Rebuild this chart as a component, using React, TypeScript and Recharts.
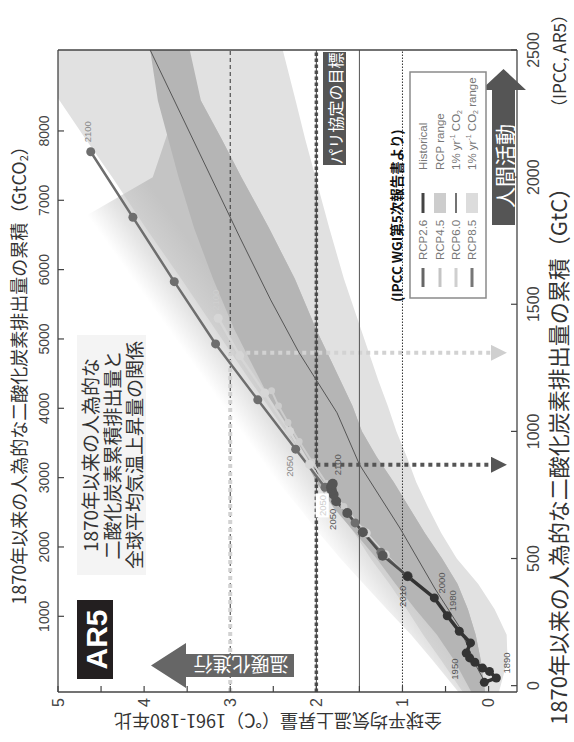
import React from "react";
import {
  ComposedChart,
  Area,
  Line,
  XAxis,
  YAxis,
  ReferenceLine,
  LabelList,
} from "recharts";

// Drawn in the usual landscape layout (cumulative emissions across, warming up)
// and then turned a quarter turn counter-clockwise as a whole.
const W = 742;
const H = 574;

const JP = "'Noto Sans CJK JP', 'Noto Sans', sans-serif";
const NUM = "'Liberation Sans Narrow', 'Liberation Sans', Arial, sans-serif";

const GTC_TICKS = [0, 500, 1000, 1500, 2000, 2500];
const GTCO2_TICKS = [1000, 2000, 3000, 4000, 5000, 6000, 7000, 8000];
const TEMP_TICKS = [0, 0.5, 1, 1.5, 2, 2.5, 3, 3.5, 4, 4.5, 5];
const CO2_PER_C = 3.667;
const GTC_DOMAIN = [-25, 2500];
const TEMP_DOMAIN = [-0.33, 5];

// observed record, decadal
const HIST_YEARS = [1870, 1890, 1900, 1910, 1920, 1930, 1950, 1960, 1970, 1980, 2000, 2010];
const HIST_GTC = [13, 30, 56, 69, 92, 109, 128, 168, 214, 275, 345, 430];
const HIST_TEMP = [0.05, -0.09, -0.01, 0.07, 0.16, 0.22, 0.26, 0.21, 0.34, 0.48, 0.63, 0.94];

const RCP_YEARS = [2010, 2020, 2030, 2040, 2050, 2060, 2070, 2080, 2090, 2100];
const RCP26_GTC = [430, 511, 603, 679, 725, 752, 768, 780, 788, 794];
const RCP26_TEMP = [0.94, 1.23, 1.46, 1.64, 1.77, 1.8, 1.82, 1.83, 1.82, 1.81];
const RCP45_GTC = [430, 520, 612, 705, 795, 880, 960, 1035, 1100, 1160];
const RCP45_TEMP = [0.94, 1.22, 1.46, 1.68, 1.88, 2.05, 2.2, 2.33, 2.44, 2.52];
const RCP60_GTC = [430, 515, 600, 680, 760, 870, 1000, 1151, 1297, 1445];
const RCP60_TEMP = [0.94, 1.2, 1.42, 1.63, 1.85, 2.08, 2.31, 2.6, 2.89, 3.14];
const RCP85_GTC = [430, 525, 640, 780, 930, 1124, 1344, 1589, 1842, 2100];
const RCP85_TEMP = [0.94, 1.25, 1.55, 1.9, 2.24, 2.68, 3.17, 3.65, 4.13, 4.62];

// 1% per year CO2 runs, mean
const PCT_GTC = [0, 75, 232, 380, 620, 870, 1073, 1309, 1517, 1764, 2500];
const PCT_TEMP = [0.02, 0.14, 0.34, 0.62, 1.03, 1.5, 1.76, 2.2, 2.53, 2.89, 3.93];

// shaded ranges, low/high warming at each emission level
const BAND_GTC = [-25, 100, 200, 300, 400, 500, 600, 700, 800, 900, 1000, 1100, 1200, 1400, 1600, 1800, 2000, 2150, 2300, 2500];
const PCT_RANGE_LO = [-0.12, -0.22, -0.21, -0.07, 0.12, 0.37, 0.55, 0.7, 0.84, 0.95, 1.07, 1.17, 1.28, 1.48, 1.68, 1.85, 2.01, 2.13, 2.24, 2.39];
const PCT_RANGE_HI = [0.3, 0.55, 0.76, 0.95, 1.15, 1.37, 1.56, 1.77, 1.96, 2.17, 2.36, 2.56, 2.77, 3.17, 3.57, 3.98, 4.37, 4.68, 4.98, 5.38];
const RCP_RANGE_LO = [0.04, 0.09, 0.15, 0.24, 0.36, 0.54, 0.74, 0.92, 1.1, 1.3, 1.47, 1.58, 1.72, 2.0, 2.25, 2.55, 2.87, 3.1, 3.34, 3.47];
const RCP_RANGE_HI = [0.35, 0.65, 0.9, 1.18, 1.45, 1.72, 1.97, 2.2, 2.45, 2.7, 2.92, 3.12, 3.33, 3.87, 4.37, 4.92, 3.9, 3.75, 3.6, null];
const OVERLAP_HI = [0.2, 0.4, 0.6, 0.85, 1.08, 1.3, 1.55, 1.8, 2.0, 2.15, 2.33, 2.5, 2.65, 2.95, 3.2, 3.42, 3.6, 3.72, 3.84, 3.93];

// emissions left for 2°C and 3°C
const BUDGET_2C = 869;
const BUDGET_3C = 1309;

const series = (years: number[], gtc: number[], temp: number[]) =>
  years.map((year, i) => ({ year, gtc: gtc[i], temp: temp[i] }));

const hist = series(HIST_YEARS, HIST_GTC, HIST_TEMP);
const rcp26 = series(RCP_YEARS, RCP26_GTC, RCP26_TEMP);
const rcp45 = series(RCP_YEARS, RCP45_GTC, RCP45_TEMP);
const rcp60 = series(RCP_YEARS, RCP60_GTC, RCP60_TEMP);
const rcp85 = series(RCP_YEARS, RCP85_GTC, RCP85_TEMP);
const pct = PCT_GTC.map((gtc, i) => ({ gtc, temp: PCT_TEMP[i] }));

const bands = BAND_GTC.map((gtc, i) => ({
  gtc,
  pctRange: [PCT_RANGE_LO[i], PCT_RANGE_HI[i]],
  rcpRange: RCP_RANGE_HI[i] == null ? null : [RCP_RANGE_LO[i], RCP_RANGE_HI[i]],
  overlap: [RCP_RANGE_LO[i], OVERLAP_HI[i]],
}));

// top axis shares the GtC scale, labelled in GtCO2
const co2TickPos = GTCO2_TICKS.map((v) => v / CO2_PER_C);
const co2Label = (v: number) => String(Math.round((v * CO2_PER_C) / 100) * 100);

// where each year tag sits relative to its dot (px); boxed tags get a white backing
const HIST_TAGS: Record<number, number[]> = {
  1890: [15, 10],
  1950: [-16, -12],
  1980: [15, 5],
  2000: [15, 7],
  2010: [-20, -5],
};
const RCP26_TAGS: Record<number, number[]> = { 2050: [-18, -4], 2100: [19, 5] };
const RCP60_TAGS: Record<number, number[]> = { 2050: [-13, -7], 2100: [18, -3] };
const RCP85_TAGS: Record<number, number[]> = { 2050: [-17, -6], 2100: [20, -3] };

const yearTag =
  (tags: Record<number, number[]>, color: string, boxed: number[] = []) =>
  (props: any) => {
    const { x, y, value } = props;
    const off = tags[value];
    if (!off || x == null || y == null) return null;
    const cx = x + off[0];
    const cy = y + off[1];
    return (
      <g key={`${value}-${cx}`}>
        {boxed.includes(value) && <rect x={cx - 12} y={cy - 6.5} width={24} height={13} fill="#fff" />}
        <text
          x={cx}
          y={cy}
          textAnchor="middle"
          dominantBaseline="central"
          fontSize={9.5}
          fontFamily={NUM}
          fill={color}
        >
          {value}
        </text>
      </g>
    );
  };

const tempTick = (v: number) => (Number.isInteger(v) ? String(v) : "");

function Overlay() {
  return (
    <svg
      width={W}
      height={H}
      style={{ position: "absolute", left: 0, top: 0, pointerEvents: "none" }}
      fontFamily={JP}
    >
      {/* axis titles */}
      <text x={371} y={18} textAnchor="middle" dominantBaseline="central" fontSize={18} fill="#333">
        1870年以来の人為的な二酸化炭素排出量の累積（GtCO
        <tspan fontSize={11} dy={5}>2</tspan>
        <tspan dy={-5}>）</tspan>
      </text>
      <text x={17} y={557} dominantBaseline="central" fontSize={22} fill="#333">
        1870年以来の人為的な二酸化炭素排出量の累積（GtC）
      </text>
      <text x={626} y={558} dominantBaseline="central" fontSize={17} fill="#333">
        （IPCC, AR5）
      </text>
      <text
        transform="translate(20,278) rotate(-90)"
        textAnchor="middle"
        dominantBaseline="central"
        fontSize={18}
        fill="#333"
      >
        全球平均気温上昇量（℃）1961-180年比
      </text>

      {/* AR5 badge */}
      <rect x={63} y={77} width={79} height={36} fill="#231f20" />
      <text
        x={102.5}
        y={96}
        textAnchor="middle"
        dominantBaseline="central"
        fontSize={30}
        fontWeight={700}
        fontFamily="'Liberation Sans', Arial, sans-serif"
        fill="#fff"
      >
        AR5
      </text>

      {/* caption box */}
      <rect x={167} y={77} width={240} height={69} fill="#f4f4f4" />
      <text x={287} y={89} textAnchor="middle" dominantBaseline="central" fontSize={19} fill="#333">
        1870年以来の人為的な
      </text>
      <text x={287} y={111} textAnchor="middle" dominantBaseline="central" fontSize={19} fill="#333">
        二酸化炭素累積排出量と
      </text>
      <text x={287} y={133} textAnchor="middle" dominantBaseline="central" fontSize={19} fill="#333">
        全球平均気温上昇量の関係
      </text>

      {/* warming arrow */}
      <polygon points="65,294 88,294 88,186 99,186 76.5,151 54,186 65,186" fill="#666" />
      <text
        transform="translate(76.5,241) rotate(-90)"
        textAnchor="middle"
        dominantBaseline="central"
        fontSize={19}
        fill="#fff"
      >
        温暖化進行
      </text>

      {/* human activity arrow */}
      <polygon points="517,492 652,492 652,481 673,503.5 652,526 652,515 517,515" fill="#555" />
      <text x={576} y={504} textAnchor="middle" dominantBaseline="central" fontSize={21} fill="#fff">
        人間活動
      </text>

      {/* Paris goal tag */}
      <rect x={577} y={323} width={113} height={23} fill="#555" />
      <text x={633.5} y={335} textAnchor="middle" dominantBaseline="central" fontSize={16} fill="#fff">
        パリ協定の目標
      </text>

      <text x={440} y={396} dominantBaseline="central" fontSize={13.5} fontWeight={700} fill="#111">
        (IPCC WGI第5次報告書より)
      </text>

      {/* legend */}
      <rect x={444} y={410} width={226} height={76} fill="#fff" stroke="#8a8a8a" strokeWidth={1.5} />
      <g fontFamily="'Liberation Sans', Arial, sans-serif" fontSize={11.5} fill="#777">
        <line x1={455} x2={474} y1={423} y2={423} stroke="#666" strokeWidth={3} />
        <text x={482} y={423} dominantBaseline="central">RCP2.6</text>
        <line x1={455} x2={474} y1={440} y2={440} stroke="#c4c4c4" strokeWidth={3} />
        <text x={482} y={440} dominantBaseline="central">RCP4.5</text>
        <line x1={455} x2={474} y1={456} y2={456} stroke="#cfcfcf" strokeWidth={3} />
        <text x={482} y={456} dominantBaseline="central">RCP6.0</text>
        <line x1={455} x2={474} y1={472} y2={472} stroke="#777" strokeWidth={3} />
        <text x={482} y={472} dominantBaseline="central">RCP8.5</text>

        <line x1={529} x2={549} y1={423} y2={423} stroke="#444" strokeWidth={3} />
        <text x={572} y={423} dominantBaseline="central">Historical</text>
        <rect x={529} y={434} width={20} height={12} fill="#cdcdcd" />
        <text x={572} y={440} dominantBaseline="central">RCP range</text>
        <line x1={529} x2={549} y1={456} y2={456} stroke="#444" strokeWidth={1.5} />
        <text x={572} y={456} dominantBaseline="central">
          1% yr<tspan fontSize={7} dy={-4}>-1</tspan>
          <tspan dy={4}> CO</tspan>
          <tspan fontSize={7} dy={3}>2</tspan>
        </text>
        <rect x={529} y={466} width={20} height={12} fill="#dcdcdc" />
        <text x={572} y={472} dominantBaseline="central">
          1% yr<tspan fontSize={7} dy={-4}>-1</tspan>
          <tspan dy={4}> CO</tspan>
          <tspan fontSize={7} dy={3}>2</tspan>
          <tspan dy={-3}> range</tspan>
        </text>
      </g>
    </svg>
  );
}

export default function App() {
  const axisLine = { stroke: "#444", strokeWidth: 1.3 };
  const tickLine = { stroke: "#444", strokeWidth: 1.2 };
  const tickText = { fill: "#444", fontSize: 16, fontFamily: NUM };
  return (
    <div
      style={{
        position: "absolute",
        left: 0,
        top: 0,
        width: W,
        height: H,
        background: "#fff",
        transformOrigin: "0 0",
        transform: `translate(0px, ${W}px) rotate(-90deg)`,
      }}
    >
      <ComposedChart width={W} height={H} data={bands} margin={{ top: 0, right: 0, bottom: 0, left: 0 }}>
        <defs>
          {/* RCP range fades out towards its warm edge */}
          <linearGradient id="rcpFade" x1="0" y1="0" x2="1" y2="1">
            <stop offset="0.43" stopColor="#c4c4c4" stopOpacity={0} />
            <stop offset="0.47" stopColor="#c4c4c4" stopOpacity={0.45} />
            <stop offset="0.53" stopColor="#c4c4c4" stopOpacity={1} />
          </linearGradient>
          <marker id="tipDark" viewBox="0 0 10 10" refX="5" refY="5" markerWidth="4" markerHeight="4" orient="auto">
            <path d="M0,0 L10,5 L0,10 z" fill="#555" />
          </marker>
          <marker id="tipLight" viewBox="0 0 10 10" refX="5" refY="5" markerWidth="4" markerHeight="4" orient="auto">
            <path d="M0,0 L10,5 L0,10 z" fill="#cfcfcf" />
          </marker>
        </defs>

        <XAxis
          dataKey="gtc"
          type="number"
          domain={GTC_DOMAIN}
          ticks={GTC_TICKS}
          interval={0}
          allowDataOverflow
          height={57}
          tickSize={-6}
          tickMargin={17}
          axisLine={axisLine}
          tickLine={tickLine}
          tick={tickText}
        />
        <XAxis
          xAxisId="co2"
          dataKey="gtc"
          orientation="top"
          type="number"
          domain={GTC_DOMAIN}
          ticks={co2TickPos}
          tickFormatter={co2Label}
          interval={0}
          allowDataOverflow
          height={58}
          tickSize={-6}
          tickMargin={15}
          axisLine={axisLine}
          tickLine={tickLine}
          tick={{ ...tickText, fontSize: 14 }}
        />
        <YAxis
          type="number"
          domain={TEMP_DOMAIN}
          ticks={TEMP_TICKS}
          interval={0}
          allowDataOverflow
          width={50}
          tickSize={-6}
          tickMargin={12}
          tickFormatter={tempTick}
          axisLine={axisLine}
          tickLine={tickLine}
          tick={tickText}
        />
        <YAxis
          yAxisId="r"
          orientation="right"
          type="number"
          domain={TEMP_DOMAIN}
          ticks={TEMP_TICKS}
          interval={0}
          allowDataOverflow
          width={50}
          tickSize={-6}
          axisLine={axisLine}
          tickLine={tickLine}
          tick={false}
        />

        <Area dataKey="pctRange" type="linear" fill="#e1e1e1" fillOpacity={1} stroke="none" isAnimationActive={false} connectNulls />
        <Area dataKey="rcpRange" type="linear" fill="url(#rcpFade)" fillOpacity={1} stroke="none" isAnimationActive={false} connectNulls />
        <Area dataKey="overlap" type="linear" fill="#b5b5b5" fillOpacity={1} stroke="none" isAnimationActive={false} connectNulls />
        {/* keeps the GtCO2 axis tied to the same data */}
        <Line xAxisId="co2" dataKey="gtc" stroke="none" dot={false} isAnimationActive={false} legendType="none" hide />

        {/* warming levels */}
        <ReferenceLine y={3} stroke="#333" strokeWidth={1} strokeDasharray="4 3" />
        <ReferenceLine segment={[{ x: GTC_DOMAIN[0], y: 3 }, { x: BUDGET_3C, y: 3 }]} stroke="#d2d2d2" strokeWidth={4} strokeDasharray="4 4" />
        <ReferenceLine segment={[{ x: BUDGET_3C, y: 3 }, { x: BUDGET_3C, y: -0.12 }]} stroke="#d2d2d2" strokeWidth={4} strokeDasharray="4 4" markerEnd="url(#tipLight)" />
        <ReferenceLine y={2} stroke="#555" strokeWidth={3.5} strokeDasharray="3.5 2.5" />
        <ReferenceLine y={2} stroke="#444" strokeWidth={1} />
        <ReferenceLine segment={[{ x: BUDGET_2C, y: 2 }, { x: BUDGET_2C, y: -0.12 }]} stroke="#555" strokeWidth={4} strokeDasharray="4 4" markerEnd="url(#tipDark)" />
        <ReferenceLine y={1.5} stroke="#555" strokeWidth={1} />
        <ReferenceLine y={1} stroke="#333" strokeWidth={1} strokeDasharray="1.5 1.5" />

        <Line data={pct} dataKey="temp" type="linear" stroke="#555" strokeWidth={1} dot={false} isAnimationActive={false} />

        <Line data={rcp45} dataKey="temp" type="linear" stroke="#cdcdcd" strokeWidth={2} dot={{ r: 3.5, fill: "#cdcdcd", stroke: "none" }} isAnimationActive={false} />
        <Line data={rcp60} dataKey="temp" type="linear" stroke="#d6d6d6" strokeWidth={2.5} dot={{ r: 4.5, fill: "#d6d6d6", stroke: "none" }} isAnimationActive={false}>
          <LabelList dataKey="year" content={yearTag(RCP60_TAGS, "#cfcfcf", [2050])} />
        </Line>
        <Line data={rcp85} dataKey="temp" type="linear" stroke="#6e6e6e" strokeWidth={2.5} dot={{ r: 4.5, fill: "#6e6e6e", stroke: "none" }} isAnimationActive={false}>
          <LabelList dataKey="year" content={yearTag(RCP85_TAGS, "#888")} />
        </Line>
        <Line data={rcp26} dataKey="temp" type="linear" stroke="#4e4e4e" strokeWidth={2.5} dot={{ r: 5, fill: "#555", stroke: "none" }} isAnimationActive={false}>
          <LabelList dataKey="year" content={yearTag(RCP26_TAGS, "#555")} />
        </Line>
        <Line data={hist} dataKey="temp" type="linear" stroke="#333" strokeWidth={3.5} dot={{ r: 4.5, fill: "#333", stroke: "none" }} isAnimationActive={false}>
          <LabelList dataKey="year" content={yearTag(HIST_TAGS, "#555")} />
        </Line>
      </ComposedChart>
      <Overlay />
    </div>
  );
}
